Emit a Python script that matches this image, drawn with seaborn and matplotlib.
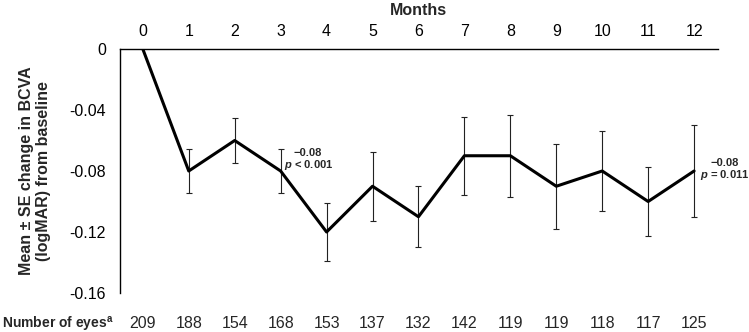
import matplotlib
matplotlib.use("Agg")
import matplotlib.pyplot as plt
import seaborn as sns
import pandas as pd

months = [0, 1, 2, 3, 4, 5, 6, 7, 8, 9, 10, 11, 12]
mean_change = [0.0, -0.08, -0.06, -0.08, -0.12, -0.09, -0.11, -0.07, -0.07, -0.09, -0.08, -0.10, -0.08]
se = [0.0, 0.0145, 0.015, 0.0145, 0.019, 0.0225, 0.020, 0.0255, 0.027, 0.028, 0.026, 0.0228, 0.030]
n_eyes = [209, 188, 154, 168, 153, 137, 132, 142, 119, 119, 118, 117, 125]
y_ticks = [0, -0.04, -0.08, -0.12, -0.16]
y_tick_labels = ["0", "-0.04", "-0.08", "-0.12", "-0.16"]

sns.set_theme(style="white")
plt.rcParams["font.family"] = ["Liberation Sans", "DejaVu Sans"]
plt.rcParams["mathtext.fontset"] = "custom"
plt.rcParams["mathtext.rm"] = "Liberation Sans"
plt.rcParams["mathtext.it"] = "Liberation Sans:italic"
plt.rcParams["mathtext.bf"] = "Liberation Sans:bold"
plt.rcParams["mathtext.bfit"] = "Liberation Sans:bold:italic"

df = pd.DataFrame({"month": months, "change": mean_change, "se": se})

fig = plt.figure(figsize=(7.49, 3.32), dpi=100)
ax = fig.add_axes([0.160, 0.1175, 0.7986, 0.7349])

eb = df[df["month"] > 0]
ax.errorbar(eb["month"], eb["change"], yerr=eb["se"], fmt="none",
            ecolor="#222222", elinewidth=0.8, capsize=2, capthick=0.8, zorder=2)
sns.lineplot(data=df, x="month", y="change", ax=ax, color="black",
             linewidth=2.2, zorder=3)

ax.set_xlim(-0.5, 12.52)
ax.set_ylim(-0.16, 0)
ax.xaxis.tick_top()
ax.xaxis.set_label_position("top")
ax.set_xticks(months)
ax.set_xticklabels([str(m) for m in months], fontsize=11.5)
ax.set_yticks(y_ticks)
ax.set_yticklabels(y_tick_labels, fontsize=11.5)
ax.tick_params(axis="both", length=0, colors="black")
ax.tick_params(axis="y", pad=10)
ax.tick_params(axis="x", pad=7)

for s in ["right", "bottom"]:
    ax.spines[s].set_visible(False)
for s in ["top", "left"]:
    ax.spines[s].set_color("black")
    ax.spines[s].set_linewidth(1.0)

ax.set_xlabel("Months", fontsize=11.5, fontweight="bold", labelpad=7)
ax.set_ylabel("Mean \u00b1 SE change in BCVA\n(logMAR) from baseline",
              fontsize=11.5, fontweight="bold", labelpad=13, linespacing=1.15)
ax.grid(False)

ax.text(3.27, -0.0682, "\u22120.08", fontsize=8, fontweight="bold", ha="left", va="center")
ax.text(3.07, -0.0762, "$\\mathbfit{p}$ < 0.001", fontsize=8, fontweight="bold", ha="left", va="center")
ax.text(12.35, -0.0748, "\u22120.08", fontsize=8, fontweight="bold", ha="left", va="center")
ax.text(12.12, -0.0826, "$\\mathbfit{p}$ = 0.011", fontsize=8, fontweight="bold", ha="left", va="center")

trans = ax.get_xaxis_transform()
for m, n in zip(months, n_eyes):
    ax.text(m, -0.123, str(n), transform=trans, fontsize=11.5, ha="center", va="center")
fig.text(0.003, 1 - 324 / 332, "Number of eyes$^{\\mathbf{a}}$", fontsize=10,
         fontweight="bold", ha="left", va="center")

fig.savefig("out.png", dpi=100)
